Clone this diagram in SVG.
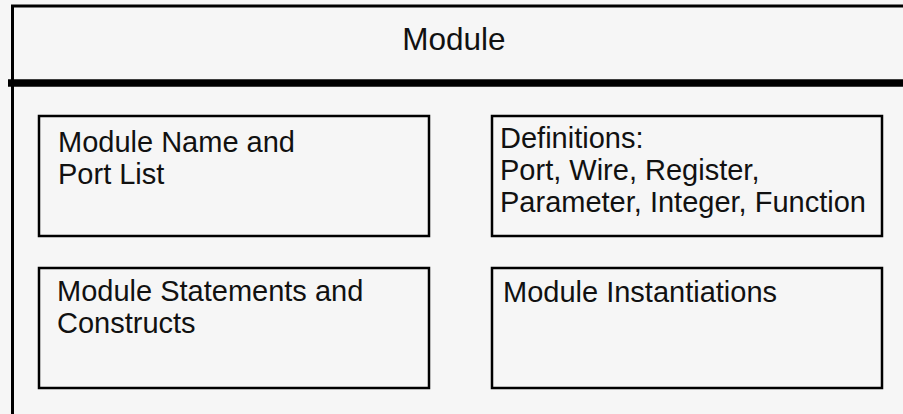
<svg xmlns="http://www.w3.org/2000/svg" width="903" height="414" viewBox="0 0 903 414">
<style>
  .bg{fill:#f6f6f6}
  .box{fill:#f6f6f6;stroke:#000;stroke-width:2.5}
  .lbl{font-family:"Liberation Sans",Arial,sans-serif;font-size:29px;fill:#111}
  .title{font-family:"Liberation Sans",Arial,sans-serif;font-size:31.5px;fill:#111;text-anchor:middle}
</style>
<rect class="bg" x="0" y="0" width="903" height="414"/>
<g id="module">
  <rect x="12.5" y="6" width="1000" height="600" fill="#f6f6f6" stroke="#000" stroke-width="3"/>
  <line x1="8" y1="83" x2="903" y2="83" stroke="#000" stroke-width="7.5"/>
  <text class="title" x="454" y="50">Module</text>
</g>
<g id="connectors"></g>
<g id="name-port-list">
  <rect class="box" x="39" y="116" width="390" height="120"/>
  <text class="lbl" x="58" y="152">Module Name and</text>
  <text class="lbl" x="58" y="184">Port List</text>
</g>
<g id="definitions">
  <rect class="box" x="492" y="116" width="390" height="120"/>
  <text class="lbl" x="500" y="148">Definitions:</text>
  <text class="lbl" x="500" y="180">Port, Wire, Register,</text>
  <text class="lbl" x="500" y="212">Parameter, Integer, Function</text>
</g>
<g id="statements">
  <rect class="box" x="39" y="268" width="390" height="120"/>
  <text class="lbl" x="57" y="301">Module Statements and</text>
  <text class="lbl" x="57" y="333">Constructs</text>
</g>
<g id="instantiations">
  <rect class="box" x="492" y="268" width="390" height="120"/>
  <text class="lbl" x="503" y="302">Module Instantiations</text>
</g>
</svg>
